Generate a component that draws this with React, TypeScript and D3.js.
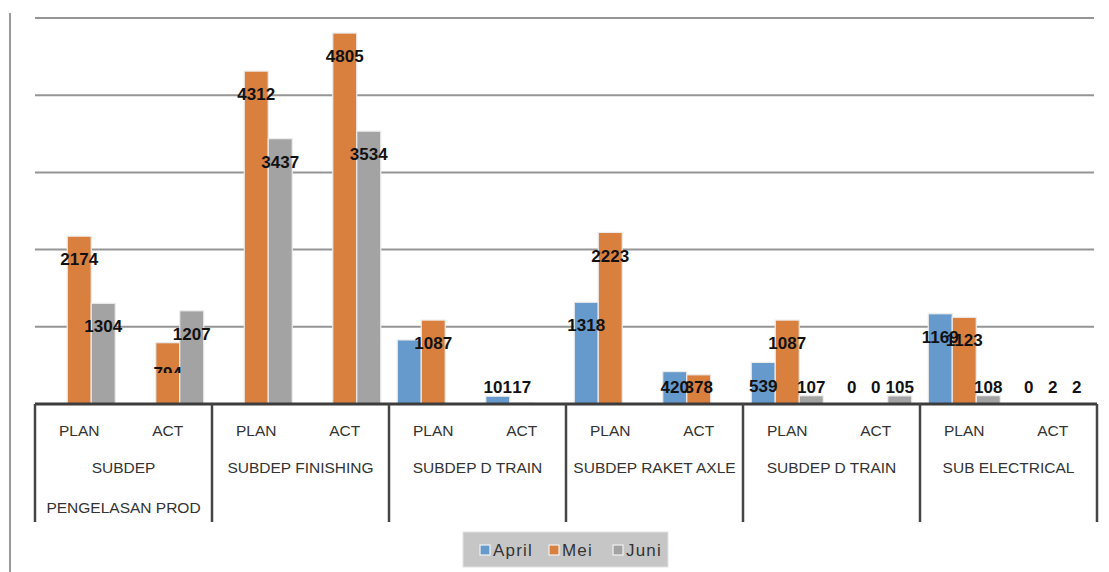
import React from "react";
import * as d3 from "d3";

const outerGroups = ["SUBDEP PENGELASAN PROD", "SUBDEP FINISHING", "SUBDEP D TRAIN", "SUBDEP RAKET AXLE", "SUBDEP D TRAIN", "SUB ELECTRICAL"];
const subGroups = ["PLAN", "ACT"];
const seriesNames = ["April", "Mei", "Juni"];
const aprilValues: (number | null)[] = [null, null, null, null, 830, 101, 1318, 420, 539, 0, 1169, 0];
const meiValues: (number | null)[] = [2174, 794, 4312, 4805, 1087, 17, 2223, 378, 1087, 0, 1123, 2];
const juniValues: (number | null)[] = [1304, 1207, 3437, 3534, null, null, null, null, 107, 105, 108, 2];
// labels that are not shown / partly hidden in the source
const hiddenLabels = ["April-4"];
const clippedLabels = ["Mei-1"];
const yTicks = [1000, 2000, 3000, 4000, 5000];

const colors = ["#6699cc", "#d9803f", "#a3a3a3"];

export default function App() {
  const W = 1109, H = 572;
  const left = 35, right = 1097, top = 18, base = 404;
  const y = d3.scaleLinear().domain([0, 5000]).range([base, top]);
  const cats = d3.range(outerGroups.length * subGroups.length);
  const x = d3.scaleBand<number>().domain(cats).range([left, right]);
  const outer = d3.scaleBand<number>().domain(d3.range(outerGroups.length)).range([left, right]);
  const xs = d3.scaleBand<string>().domain(seriesNames).range([0, x.bandwidth()]).paddingOuter(0.344);
  const series = [aprilValues, meiValues, juniValues];

  const bars: any[] = [];
  const labels: any[] = [];
  series.forEach((vals, si) => {
    vals.forEach((v, ci) => {
      if (v === null) return;
      const bx = (x(ci) as number) + (xs(seriesNames[si]) as number);
      const by = y(v);
      bars.push({ key: `${si}-${ci}`, x: bx, y: by, w: xs.bandwidth(), h: base - by, c: colors[si] });
      const key = `${seriesNames[si]}-${ci}`;
      if (hiddenLabels.includes(key)) return;
      const clip = clippedLabels.includes(key);
      labels.push({ key, x: bx + xs.bandwidth() / 2, y: clip ? Math.min(by + 30, 387) : Math.min(by + 23, 387), t: String(v), clip });
    });
  });

  const legendX = 463, legendY = 532;
  const legendItems = [
    { sq: 480, tx: 493 },
    { sq: 549, tx: 562 },
    { sq: 613, tx: 626 },
  ];

  return (
    <svg width={W} height={H} style={{ position: "fixed", left: 0, top: 0, background: "#fff" }} fontFamily="Liberation Sans, Arial, sans-serif">
      <defs>
        <clipPath id="lblclip">
          <rect x={0} y={0} width={W} height={373} />
        </clipPath>
      </defs>
      <rect width={W} height={H} fill="#fff" />
      <line x1={10} x2={10} y1={13} y2={H} stroke="#999" strokeWidth={2} />
      {yTicks.map((t) => (
        <line key={t} x1={left} x2={1094} y1={y(t)} y2={y(t)} stroke="#959595" strokeWidth={2} />
      ))}
      {bars.map((b) => (
        <rect key={b.key} x={b.x} y={b.y} width={b.w} height={b.h} fill={b.c} stroke="#ececec" strokeWidth={1.2} />
      ))}
      {labels.map((l) => (
        <text key={l.key} x={l.x} y={l.y} dy="0.36em" textAnchor="middle" fontWeight="bold" fontSize={17} fill="#111" clipPath={l.clip ? "url(#lblclip)" : undefined}>
          {l.t}
        </text>
      ))}
      <line x1={left} x2={right} y1={base} y2={base} stroke="#3c3c3c" strokeWidth={3} />
      {d3.range(outerGroups.length + 1).map((i) => {
        const xx = i < outerGroups.length ? (outer(i) as number) : right;
        return <line key={i} x1={xx} x2={xx} y1={base} y2={522} stroke="#454545" strokeWidth={2.5} />;
      })}
      {cats.map((ci) => (
        <text key={ci} x={(x(ci) as number) + x.bandwidth() / 2} y={436} textAnchor="middle" fontSize={15.5} fill="#333">
          {subGroups[ci % 2]}
        </text>
      ))}
      {outerGroups.map((g, i) => {
        const cx = (outer(i) as number) + outer.bandwidth() / 2;
        const lines = i === 0 ? ["SUBDEP", "PENGELASAN PROD"] : [g];
        return lines.map((ln, k) => (
          <text key={`${i}-${k}`} x={cx} y={473 + k * 40} textAnchor="middle" fontSize={15.5} fill="#333">
            {ln}
          </text>
        ));
      })}
      <rect x={legendX} y={legendY} width={205} height={35} fill="#c6c6c6" stroke="#e2e2e2" strokeWidth={1} />
      {seriesNames.map((s, i) => (
        <g key={s}>
          <rect x={legendItems[i].sq} y={545} width={10} height={10} fill={colors[i]} stroke="#f2f2f2" strokeWidth={1.2} />
          <text x={legendItems[i].tx} y={556} fontSize={17} fill="#333" letterSpacing={1.2}>
            {s}
          </text>
        </g>
      ))}
    </svg>
  );
}
